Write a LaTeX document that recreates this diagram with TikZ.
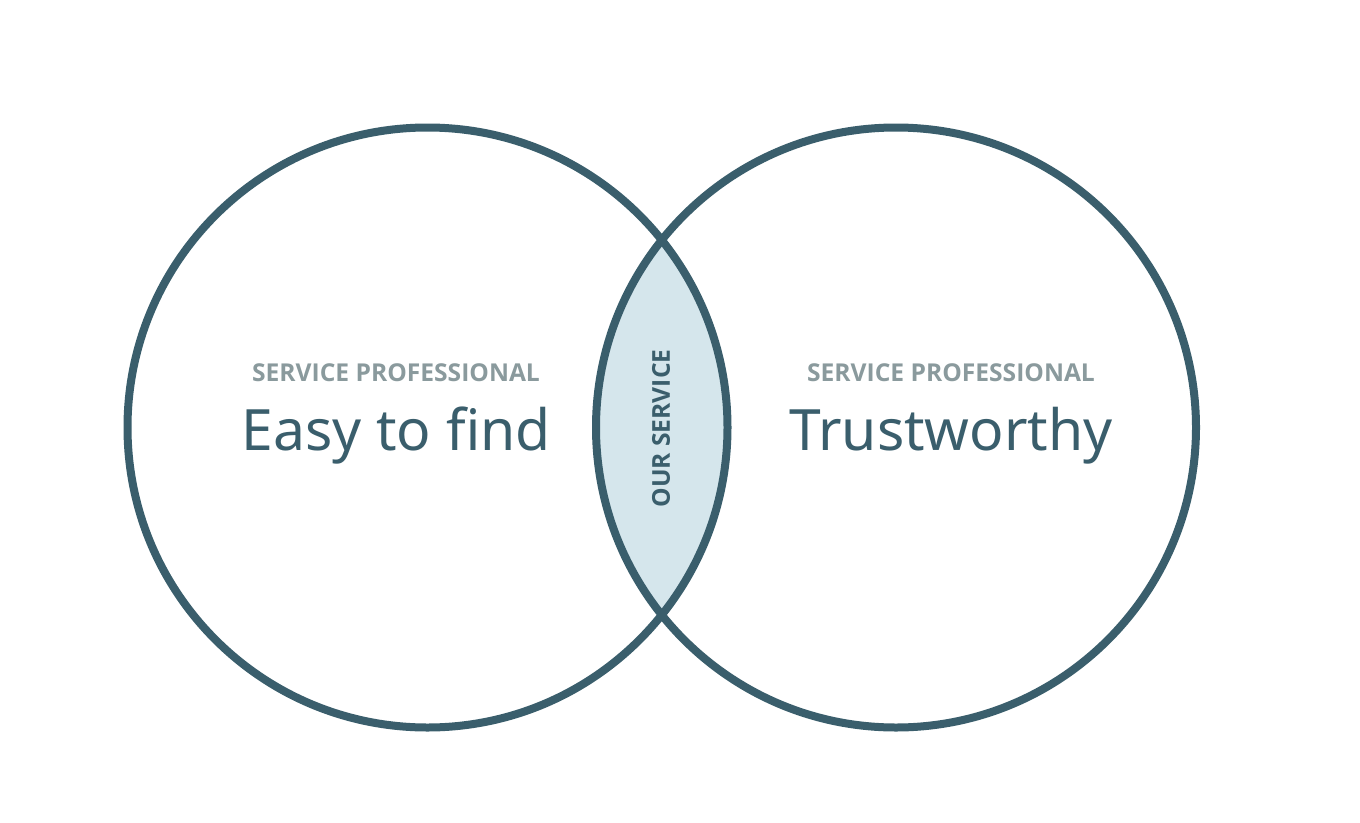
\documentclass[tikz,border=0pt]{standalone}
\usepackage{fontspec}
\setmainfont{Noto Sans}
\newfontfamily\opens{Open Sans}
\definecolor{ring}{HTML}{3A5E6C}
\definecolor{lens}{HTML}{D5E6EC}
\definecolor{sub}{HTML}{8A9A9D}
\tikzset{
  ringline/.style={draw=ring, line width=8pt},
  subtitle/.style={text=sub, font=\opens\fontsize{24.6}{28}\selectfont\bfseries, anchor=base, inner sep=0pt},
  title/.style={text=ring, font=\fontsize{57}{64}\selectfont, anchor=base, inner sep=0pt},
  lenslabel/.style={text=ring, font=\opens\fontsize{24.6}{28}\selectfont\bfseries, rotate=90, inner sep=0pt}
}
\begin{document}
\begin{tikzpicture}[x=1pt,y=-1pt]
\useasboundingbox (0,0) rectangle (1360,822);
\fill[white] (0,0) rectangle (1360,822);
\coordinate (L) at (427.5,427.5);
\coordinate (R) at (896,427.5);
\begin{scope}
  \clip (L) circle (300);
  \fill[lens] (R) circle (300);
\end{scope}
\draw[ringline] (L) circle (300);
\draw[ringline] (R) circle (300);
\node[subtitle] (ls) at (396,381) {SERVICE PROFESSIONAL};
\node[title] (lt) at (396,450) {Easy to find};
\node[subtitle] (rs) at (951,381) {SERVICE PROFESSIONAL};
\node[title] (rt) at (951,450) {Trustworthy};
\node[lenslabel] (os) at (661,428.5) {OUR SERVICE};
\end{tikzpicture}
\end{document}
